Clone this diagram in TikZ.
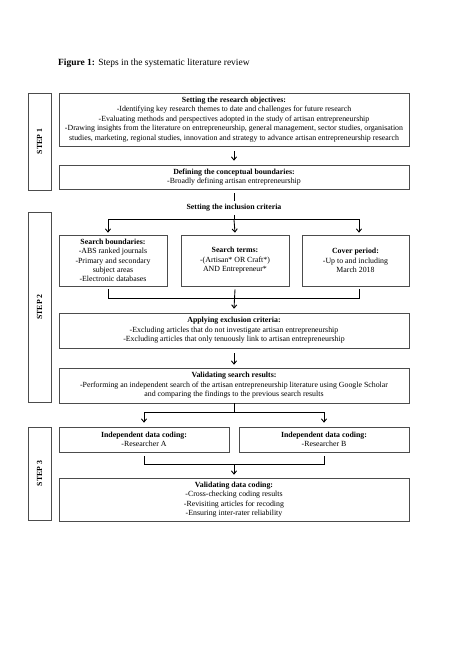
\documentclass[tikz,border=0pt]{standalone}
\usepackage{fontspec}
\setmainfont{Liberation Serif}
\usetikzlibrary{arrows.meta,calc}
\newlength\pxu
\setlength\pxu{1.2553pt}
\begin{document}
\begin{tikzpicture}[x=\pxu,y=-\pxu,
  box/.style={draw=black!70, line width=0.8pt, inner sep=0pt, align=center,
    font=\fontsize{9.85}{11.8}\selectfont},
  stepbox/.style={draw=black!70, line width=0.8pt, inner sep=0pt, rotate=90,
    font=\bfseries\fontsize{9.8}{11}\selectfont},
  arr/.style={-{Straight Barb[length=4pt,width=6.5pt]}, line width=1.1pt},
  ln/.style={line width=1.1pt},
  lbl/.style={inner sep=0pt, font=\bfseries\fontsize{9.85}{11}\selectfont}]
\useasboundingbox (0,0) rectangle (474,670);

\node[anchor=west, inner sep=0pt, font=\fontsize{11.9}{14}\selectfont] (title) at (58,63)
  {\textbf{Figure 1:} Steps in the systematic literature review};

% step labels
\node[stepbox, minimum width=97\pxu, minimum height=23\pxu] (s1) at (39.5,141.5) {STEP 1};
\node[stepbox, minimum width=190\pxu, minimum height=23\pxu] (s2) at (39.5,307) {STEP 2};
\node[stepbox, minimum width=93\pxu, minimum height=23\pxu] (s3) at (39.5,473.5) {STEP 3};

% step 1
\node[box, minimum width=350\pxu, minimum height=53\pxu] (b1) at (234,119.5)
  {\textbf{Setting the research objectives:}\\
   -Identifying key research themes to date and challenges for future research\\
   -Evaluating methods and perspectives adopted in the study of artisan entrepreneurship\\
   -Drawing insights from the literature on entrepreneurship, general management, sector studies, organisation\\
   studies, marketing, regional studies, innovation and strategy to advance artisan entrepreneurship research};
\node[box, minimum width=350\pxu, minimum height=24\pxu] (b2) at (234,177)
  {\textbf{Defining the conceptual boundaries:}\\
   -Broadly defining artisan entrepreneurship};

% step 2
\node[lbl] (incl) at (234,208) {Setting the inclusion criteria};
\node[box, minimum width=108\pxu, minimum height=51\pxu] (sA) at (113,260.5)
  {\textbf{Search boundaries:}\\ -ABS ranked journals\\ -Primary and secondary\\ subject areas\\ -Electronic databases};
\node[box, minimum width=108\pxu, minimum height=51\pxu] (sB) at (235,260.5)
  {\textbf{Search terms:}\\ -(Artisan* OR Craft*)\\ AND Entrepreneur*};
\node[box, minimum width=107\pxu, minimum height=51\pxu] (sC) at (355.5,260.5)
  {\textbf{Cover period:}\\ -Up to and including\\ March 2018};
\node[box, minimum width=350\pxu, minimum height=35\pxu] (excl) at (234,330.5)
  {\textbf{Applying exclusion criteria:}\\
   -Excluding articles that do not investigate artisan entrepreneurship\\
   -Excluding articles that only tenuously link to artisan entrepreneurship};
\node[box, minimum width=350\pxu, minimum height=35\pxu] (valid) at (234,385.5)
  {\textbf{Validating search results:}\\
   -Performing an independent search of the artisan entrepreneurship literature using Google Scholar\\
   and comparing the findings to the previous search results};

% step 3
\node[box, minimum width=170\pxu, minimum height=25\pxu] (rA) at (144,439.5)
  {\textbf{Independent data coding:}\\ -Researcher A};
\node[box, minimum width=170\pxu, minimum height=25\pxu] (rB) at (324,439.5)
  {\textbf{Independent data coding:}\\ -Researcher B};
\node[box, minimum width=350\pxu, minimum height=43\pxu] (vdc) at (234,499.5)
  {\textbf{Validating data coding:}\\
   -Cross-checking coding results\\
   -Revisiting articles for recoding\\
   -Ensuring inter-rater reliability};

% connectors
\draw[arr] ($(b1.south)+(0,5)$) -- ($(b2.north)+(0,-4)$);
\draw[ln] ($(b2.south)+(0,4)$) -- ($(incl.north)+(0,-3)$);

\coordinate (hc) at ($(incl.south)+(0,8)$);
\coordinate (a1) at ($(sA.north)+(-5,-2)$);
\coordinate (a3) at ($(sC.north)+(3.5,-2)$);
\draw[ln] ($(incl.south)+(0,3)$) -- (hc);
\draw[arr] (hc) -| (a1);
\draw[arr] (hc) -| (a3);
\draw[arr] (hc) -- ($(sB.north)+(0,-2)$);

\coordinate (q1) at ($(sA.south)+(-5,3)$);
\coordinate (q3) at ($(sC.south)+(3.5,3)$);
\coordinate (qc) at ($(sB.south)+(0,12)$);
\draw[ln] (q1) |- (qc) -| (q3);
\draw[arr] ($(sB.south)+(0,3)$) -- ($(excl.north)+(0,-4)$);

\draw[arr] ($(excl.south)+(0,5)$) -- ($(valid.north)+(0,-3)$);

\coordinate (vc) at ($(valid.south)+(0,9)$);
\draw[ln] (valid.south) -- (vc);
\draw[arr] (vc) -| ($(rA.north)+(0,-4)$);
\draw[arr] (vc) -| ($(rB.north)+(0,-4)$);

\coordinate (r1) at ($(rA.south)+(0,4)$);
\coordinate (r2) at ($(rB.south)+(0,4)$);
\coordinate (rc) at ($(vdc.north)+(0,-13)$);
\draw[ln] (r1) |- (rc) -| (r2);
\draw[arr] (rc) -- ($(vdc.north)+(0,-3)$);
\end{tikzpicture}
\end{document}
